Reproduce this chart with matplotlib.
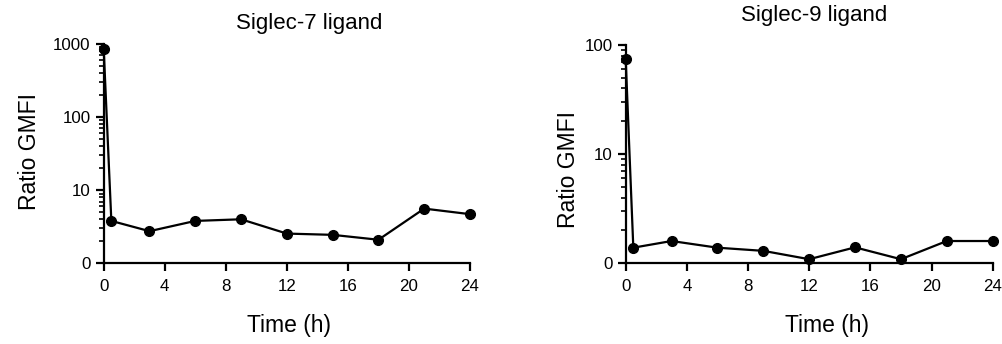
import numpy as np
import matplotlib.pyplot as plt

plt.rcParams['font.family'] = ['Liberation Sans', 'DejaVu Sans']

time_h = [0, 0.5, 3, 6, 9, 12, 15, 18, 21, 24]
siglec7 = [850, 3.8, 2.75, 3.8, 4.0, 2.55, 2.45, 2.1, 5.6, 4.7]
siglec9 = [75, 1.39, 1.6, 1.39, 1.3, 1.09, 1.4, 1.09, 1.6, 1.6]

x_ticks = [0, 4, 8, 12, 16, 20, 24]

fig = plt.figure(figsize=(10.03, 3.44), dpi=100)
ax1 = fig.add_axes([0.1034, 0.2346, 0.3652, 0.6375])
ax2 = fig.add_axes([0.6238, 0.2346, 0.3659, 0.6346])

panels = [
    (ax1, siglec7, 1000, [1, 10, 100, 1000], ['0', '10', '100', '1000']),
    (ax2, siglec9, 100, [1, 10, 100], ['0', '10', '100']),
]

for ax, vals, top, yt, ytl in panels:
    ax.plot(time_h, vals, color='black', lw=1.6, marker='o', ms=7, clip_on=False, zorder=3)
    ax.set_yscale('log')
    ax.set_ylim(1, top)
    ax.set_xlim(0, 24)
    ax.set_yticks(yt, labels=ytl)
    ax.set_xticks(x_ticks)
    for s in ['top', 'right']:
        ax.spines[s].set_visible(False)
    for s in ['left', 'bottom']:
        ax.spines[s].set_linewidth(1.6)
    ax.tick_params(axis='both', which='major', length=6, width=1.6, labelsize=12.2)
    ax.tick_params(axis='x', which='major', pad=5)
    ax.tick_params(axis='y', which='major', pad=3.5)
    ax.tick_params(axis='y', which='minor', length=3.5, width=1.2)
    ax.tick_params(axis='y', which='minor', labelleft=False)

fig.text(0.308, 0.933, 'Siglec-7 ligand', fontsize=16, ha='center', va='center')
fig.text(0.812, 0.956, 'Siglec-9 ligand', fontsize=16, ha='center', va='center')
fig.text(0.029, 0.559, 'Ratio GMFI', fontsize=16.5, rotation=90, ha='center', va='center')
fig.text(0.567, 0.506, 'Ratio GMFI', fontsize=16.5, rotation=90, ha='center', va='center')
fig.text(0.288, 0.055, 'Time (h)', fontsize=16.5, ha='center', va='center')
fig.text(0.825, 0.055, 'Time (h)', fontsize=16.5, ha='center', va='center')

fig.savefig('out.png', dpi=100)
